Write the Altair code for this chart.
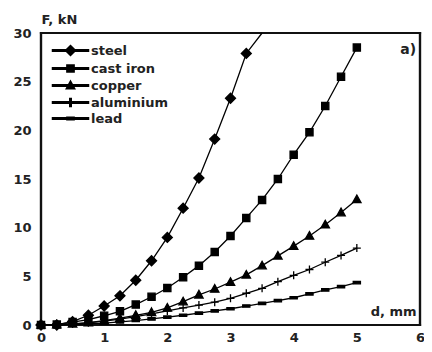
import altair as alt
import pandas as pd

d_mm = [0, 0.25, 0.5, 0.75, 1.0, 1.25, 1.5, 1.75, 2.0, 2.25, 2.5, 2.75, 3.0,
        3.25, 3.5, 3.75, 4.0, 4.25, 4.5, 4.75, 5.0]
series = ["steel", "cast iron", "copper", "aluminium", "lead"]
steel = [0, 0, 0.35, 1.0, 1.95, 3.0, 4.6, 6.6, 9.0, 12.0, 15.1, 19.1, 23.3, 27.9, 32.9]
cast_iron = [0, 0.05, 0.3, 0.55, 0.95, 1.4, 2.1, 2.9, 3.8, 4.9, 6.1, 7.5, 9.15,
             11.0, 12.85, 15.0, 17.5, 19.8, 22.5, 25.5, 28.5]
copper = [0, 0.03, 0.12, 0.25, 0.45, 0.7, 1.0, 1.3, 1.75, 2.4, 3.1, 3.7, 4.4,
          5.15, 6.1, 7.1, 8.1, 9.15, 10.3, 11.55, 12.9]
aluminium = [0, 0.02, 0.1, 0.22, 0.4, 0.6, 0.85, 1.15, 1.45, 1.75, 2.05, 2.35, 2.74,
             3.26, 3.77, 4.45, 5.1, 5.7, 6.45, 7.15, 7.9]
lead = [0, 0.01, 0.04, 0.11, 0.2, 0.32, 0.46, 0.62, 0.8, 1.0, 1.22, 1.45, 1.67,
        1.95, 2.23, 2.5, 2.8, 3.2, 3.6, 3.95, 4.35]
x_ticks = [0, 1, 2, 3, 4, 5, 6]
y_ticks = [0, 5, 10, 15, 20, 25, 30]
panel_label = "a)"

values = {"steel": steel, "cast iron": cast_iron, "copper": copper,
          "aluminium": aluminium, "lead": lead}
rows = []
for s in series:
    for x, y in zip(d_mm, values[s]):
        rows.append({"d": x, "F": y, "material": s})
df = pd.DataFrame(rows)

W, H = 379, 292
T = 1.1  # half thickness of the frame bars
FRAME = "#111111"

marker_paths = [
    "M0,-1.25L1.25,0L0,1.25L-1.25,0Z",
    "M-0.9,-0.9H0.9V0.9H-0.9Z",
    "M0,-1.1L1.05,0.8H-1.05Z",
    "M-1,0H1M0,-1V1",
    "M-0.9,-0.3H0.9V0.3H-0.9Z",
]
legend_line = "M-4.5,-0.19H4.5V0.19H-4.5Z"
legend_markers = [
    "M0,-1.25L1.25,0L0,1.25L-1.25,0Z",
    "M-0.9,-0.9H0.9V0.9H-0.9Z",
    "M0,-1.1L1.05,0.8H-1.05Z",
    "M-0.19,-1H0.19V1H-0.19Z",
    "M-0.9,-0.3H0.9V0.3H-0.9Z",
]
legend_paths = [legend_line + p for p in legend_markers]

FONT = "DejaVu Sans"
TXT = "#222222"

x_enc = alt.X("d:Q", scale=alt.Scale(domain=[0, 6], nice=False),
              axis=alt.Axis(values=x_ticks, format="d", title="d, mm", titleX=W - 4,
                            titleY=-14, titleAlign="right", titleBaseline="middle",
                            titleAngle=0, labelFlush=False))
y_enc = alt.Y("F:Q", scale=alt.Scale(domain=[0, 30], nice=False, clamp=True),
              axis=alt.Axis(values=y_ticks, title="F, kN", titleX=0, titleY=-14,
                            titleAlign="left", titleBaseline="middle", titleAngle=0,
                            labelFlush=False))

base = alt.Chart(df)

lines = base.mark_line(color="black", strokeWidth=1.3).encode(
    x=x_enc, y=y_enc, detail="material:N")

points = base.mark_point(fill="black", stroke="black", strokeWidth=1.3,
                         opacity=1, size=64).encode(
    x="d:Q", y="F:Q",
    shape=alt.Shape("material:N", scale=alt.Scale(domain=series, range=marker_paths),
                    legend=None),
).transform_filter(alt.datum.F <= 30)

legend_layer = base.mark_point(fill="black", stroke="black", strokeWidth=1.3,
                               opacity=0, size=64).encode(
    x="d:Q", y="F:Q",
    shape=alt.Shape("material:N", scale=alt.Scale(domain=series, range=legend_paths),
                    legend=alt.Legend(title=None, orient="none", legendX=23, legendY=11,
                                      symbolSize=64, symbolOpacity=1,
                                      symbolFillColor="black",
                                      labelOffset=14, rowPadding=2, padding=0,
                                      labelFont=FONT, labelFontSize=13,
                                      labelFontWeight="bold", labelColor=TXT)),
).transform_filter(alt.datum.F <= 30)

one = alt.Chart(pd.DataFrame({"k": [0]}))
bar_left = one.mark_rect(fill=FRAME).encode(
    x=alt.value(-T), x2=alt.value(T), y=alt.value(-T), y2=alt.value(H + T))
bar_right = one.mark_rect(fill=FRAME).encode(
    x=alt.value(W - T), x2=alt.value(W + T), y=alt.value(-T), y2=alt.value(H + T))
bar_top = one.mark_rect(fill=FRAME).encode(
    x=alt.value(-T), x2=alt.value(W + T), y=alt.value(-T), y2=alt.value(T))
bar_bottom = one.mark_rect(fill=FRAME).encode(
    x=alt.value(-T), x2=alt.value(W + T), y=alt.value(H - T), y2=alt.value(H + T))

label = one.mark_text(text=panel_label, align="right", baseline="middle",
                      font=FONT, fontSize=14, fontWeight="bold", color=TXT).encode(
    x=alt.datum(5.94), y=alt.datum(28.25))

chart = alt.layer(bar_left, bar_right, bar_top, bar_bottom, lines, points,
                  legend_layer, label).resolve_scale(shape="independent").properties(
    width=W, height=H,
    autosize=alt.AutoSizeParams(type="none"),
    padding={"left": 33, "top": 25, "right": 4, "bottom": 19},
).configure_view(stroke=FRAME, strokeWidth=2.2).configure_axis(
    grid=False, ticks=False, domain=False,
    labelFont=FONT, labelFontSize=13, labelFontWeight="bold", labelColor=TXT,
    titleFont=FONT, titleFontSize=13, titleFontWeight="bold", titleColor=TXT,
).configure_axisX(labelPadding=6).configure_axisY(labelPadding=10)

chart.save("out.html", embed_options={"renderer": "svg", "actions": False})
